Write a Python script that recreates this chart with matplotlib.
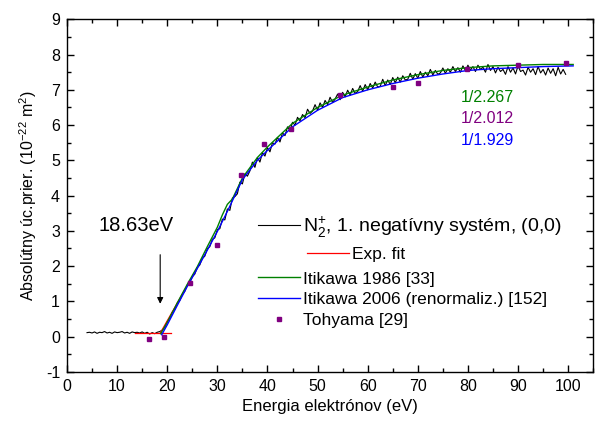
import numpy as np
import matplotlib
matplotlib.use("Agg")
import matplotlib.pyplot as plt
from matplotlib.lines import Line2D
from matplotlib.ticker import MultipleLocator

plt.rcParams['font.family'] = ['Liberation Sans', 'DejaVu Sans']
plt.rcParams['mathtext.fontset'] = 'custom'
plt.rcParams['mathtext.rm'] = 'Liberation Sans'
plt.rcParams['axes.unicode_minus'] = False

# experimental cross section, 0.5 eV grid from 4 eV (one row = 5 eV)
exp_start, exp_step = 4.0, 0.5
exp_y = [
    0.11, 0.12, 0.10, 0.13, 0.09, 0.12, 0.11, 0.14, 0.10, 0.12,
    0.09, 0.13, 0.11, 0.12, 0.14, 0.10, 0.12, 0.09, 0.13, 0.11,
    0.12, 0.10, 0.13, 0.09, 0.12, 0.07, 0.11, 0.08, 0.12, 0.14,
    0.18, 0.26, 0.42, 0.52, 0.69, 0.77, 0.95, 1.02, 1.19, 1.28,
    1.46, 1.53, 1.70, 1.77, 1.96, 2.03, 2.22, 2.28, 2.49, 2.55,
    2.76, 2.80, 3.03, 3.06, 3.33, 3.31, 3.62, 3.58, 3.93, 3.97,
    4.05, 4.38, 4.33, 4.62, 4.55, 4.70, 4.95, 4.80, 5.08, 4.95,
    5.22, 5.12, 5.36, 5.24, 5.50, 5.46, 5.65, 5.52, 5.78, 5.70,
    5.95, 5.84, 6.08, 6.00, 6.22, 6.12, 6.30, 6.21, 6.45, 6.33,
    6.40, 6.58, 6.42, 6.63, 6.50, 6.70, 6.58, 6.79, 6.64, 6.74,
    6.88, 6.72, 6.93, 6.80, 6.99, 6.85, 7.04, 6.90, 6.95, 7.12,
    6.96, 7.15, 7.00, 7.18, 7.05, 7.22, 7.08, 7.10, 7.30, 7.12,
    7.28, 7.15, 7.35, 7.20, 7.36, 7.22, 7.40, 7.28, 7.30, 7.47,
    7.30, 7.46, 7.33, 7.52, 7.36, 7.50, 7.40, 7.58, 7.42, 7.55,
    7.44, 7.48, 7.62, 7.47, 7.60, 7.50, 7.66, 7.52, 7.63, 7.50,
    7.68, 7.55, 7.70, 7.56, 7.66, 7.52, 7.70, 7.58, 7.64, 7.50,
    7.72, 7.55, 7.66, 7.48, 7.64, 7.52, 7.58, 7.44, 7.66, 7.50,
    7.62, 7.45, 7.68, 7.52, 7.56, 7.42, 7.64, 7.50, 7.60, 7.43,
    7.66, 7.48, 7.58, 7.42, 7.62, 7.47, 7.60, 7.40, 7.64, 7.45,
    7.58, 7.44,
]
exp_x = exp_start + exp_step * np.arange(len(exp_y))

# exponential fit near threshold
fit_flat_x = [13.5, 20.8]
fit_flat_y = [0.1, 0.1]
fit_rise_x = [18.63, 26.0]
fit_rise_y = [0.1, 1.95]

# Itikawa 1986 (green)
it86_x = [18.7, 20, 22, 24, 26, 28, 30, 31, 32, 33, 35, 38, 40, 45, 50,
          55, 60, 65, 70, 75, 80, 85, 90, 95, 101]
it86_y = [0.08, 0.40, 0.95, 1.48, 1.98, 2.55, 3.10, 3.45, 3.75, 3.90, 4.50,
          5.08, 5.38, 6.05, 6.50, 6.85, 7.08, 7.28, 7.43, 7.55, 7.63, 7.68,
          7.70, 7.72, 7.72]

# Itikawa 2006 renormalized (blue)
it06_x = [18.9, 20, 22, 24, 26, 28, 30, 32, 35, 38, 40, 45, 50, 55, 60,
          65, 70, 75, 80, 85, 90, 95, 101]
it06_y = [0.05, 0.33, 0.88, 1.42, 1.93, 2.45, 2.98, 3.55, 4.45, 5.00, 5.28,
          5.95, 6.42, 6.78, 7.00, 7.18, 7.33, 7.45, 7.55, 7.60, 7.63, 7.66,
          7.68]

# Tohyama points
toh_x = [16.4, 19.4, 24.5, 29.9, 34.8, 39.3, 44.7, 54.5, 65.1, 70.1, 79.8,
         90.0, 99.6]
toh_y = [-0.06, 0.0, 1.53, 2.60, 4.58, 5.45, 5.88, 6.85, 7.07, 7.18, 7.60,
         7.70, 7.75]

green = '#008000'
purple = '#800080'

fig = plt.figure(figsize=(5.98, 4.21), dpi=100)
ax = fig.add_axes([0.112, 0.117, 0.880, 0.837])

ax.plot(exp_x, exp_y, color='black', lw=0.8)
ax.plot(fit_flat_x, fit_flat_y, color='red', lw=0.9)
ax.plot(fit_rise_x, fit_rise_y, color='red', lw=0.9)
ax.plot(it86_x, it86_y, color=green, lw=1.0)
ax.plot(it06_x, it06_y, color='blue', lw=1.0)
ax.plot(toh_x, toh_y, 's', color=purple, ms=3.5, lw=0)

ax.set_xlim(0, 105)
ax.set_ylim(-1, 9)
ax.xaxis.set_major_locator(MultipleLocator(10))
ax.xaxis.set_minor_locator(MultipleLocator(5))
ax.yaxis.set_major_locator(MultipleLocator(1))
ax.yaxis.set_minor_locator(MultipleLocator(0.5))
ax.tick_params(which='both', direction='in', top=True, right=True,
               labelsize=11.5)
ax.tick_params(which='major', length=5, width=1, pad=5)
ax.tick_params(which='minor', length=3, width=1)
for s in ax.spines.values():
    s.set_linewidth(1.0)

ax.set_xlabel('Energia elektrónov (eV)', fontsize=12, labelpad=4)
ax.set_ylabel('Absolútny úc.prier. (10$^{-22}$ m$^{2}$)', fontsize=11.5,
              labelpad=5)

ax.annotate('', xy=(18.6, 0.85), xytext=(18.6, 2.4),
            arrowprops=dict(arrowstyle='-|>', color='black', lw=0.8,
                            mutation_scale=9))
ax.text(13.8, 3.15, '18.63eV', fontsize=14.5, ha='center', va='center')

ax.text(83.9, 6.79, '1/2.267', color=green, fontsize=11.5, ha='center', va='center')
ax.text(83.9, 6.19, '1/2.012', color=purple, fontsize=11.5, ha='center', va='center')
ax.text(83.9, 5.57, '1/1.929', color='blue', fontsize=11.5, ha='center', va='center')

h1 = Line2D([], [], color='black', lw=0.8)
leg1 = ax.legend([h1], ['N$_{2}^{+}$, 1. negatívny systém, (0,0)'], loc='center left',
                 bbox_to_anchor=(0.363, 0.411), frameon=False, fontsize=14,
                 handlelength=2.15, handletextpad=0.17, borderpad=0,
                 borderaxespad=0)
ax.add_artist(leg1)
h2 = Line2D([], [], color='red', lw=0.9)
leg2 = ax.legend([h2], ['Exp. fit'], loc='center left',
                 bbox_to_anchor=(0.456, 0.334), frameon=False, fontsize=12.5,
                 handlelength=2.4, handletextpad=0.17, borderpad=0,
                 borderaxespad=0)
ax.add_artist(leg2)
h3 = Line2D([], [], color=green, lw=1.0)
h4 = Line2D([], [], color='blue', lw=1.0)
h5 = Line2D([], [], marker='s', color=purple, ms=3.5, lw=0)
ax.legend([h3, h4, h5],
          ['Itikawa 1986 [33]', 'Itikawa 2006 (renormaliz.) [152]', 'Tohyama [29]'],
          loc='center left', bbox_to_anchor=(0.363, 0.204), frameon=False,
          fontsize=12.5, handlelength=2.4, handletextpad=0.17, borderpad=0,
          borderaxespad=0, labelspacing=0.33)

fig.savefig('out.png', dpi=100)
